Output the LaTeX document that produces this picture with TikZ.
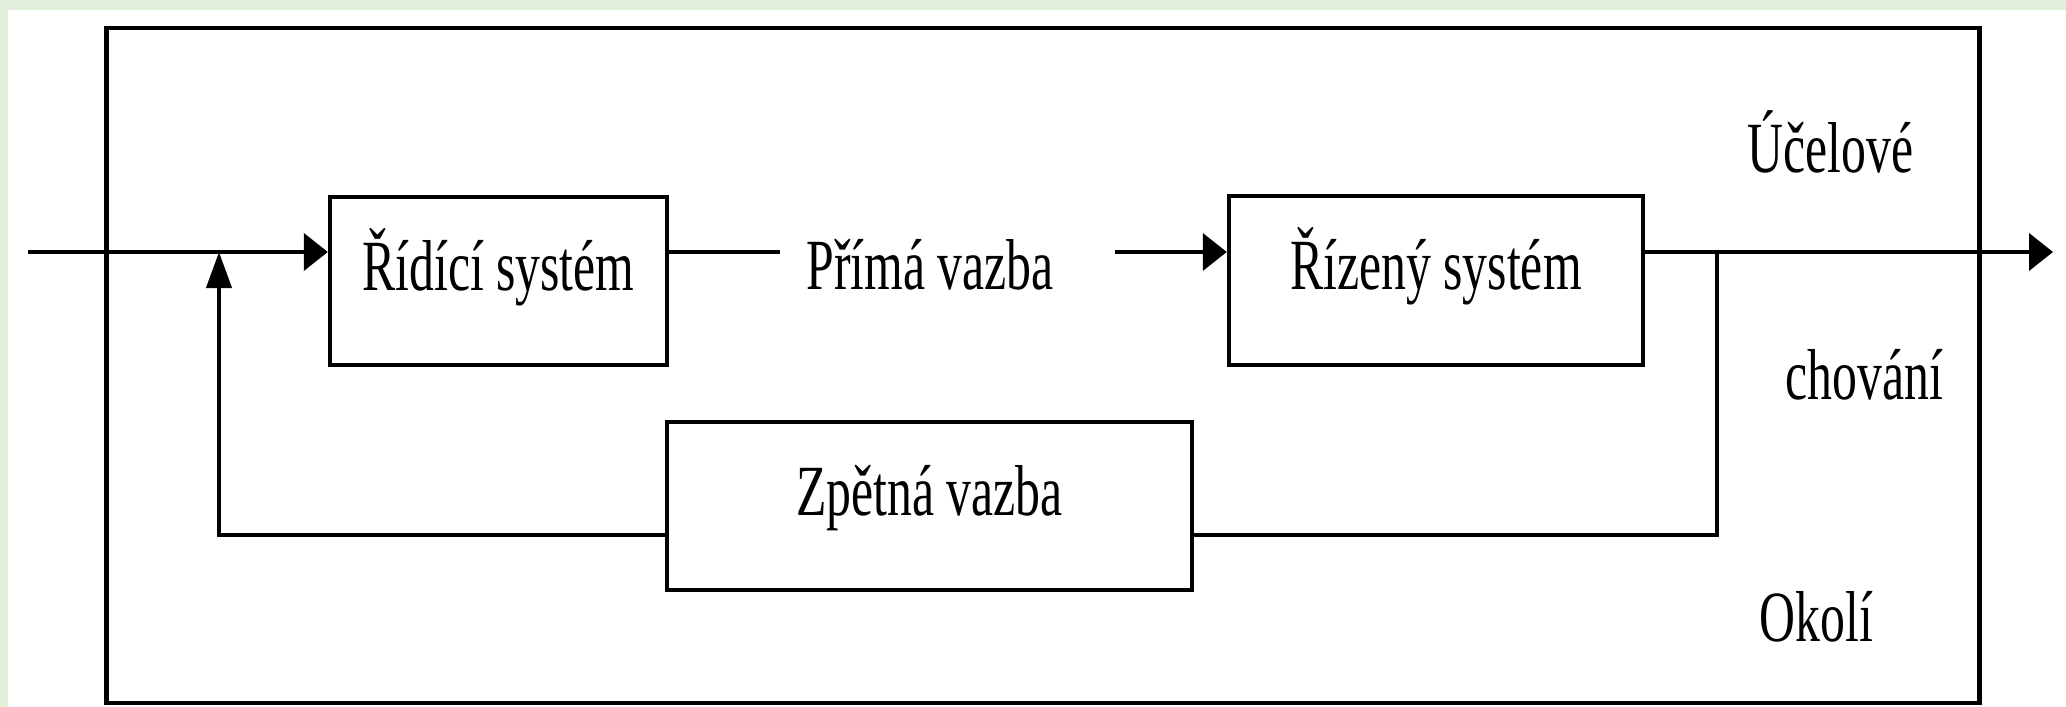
\documentclass[tikz,border=0pt]{standalone}
\usepackage{fontspec}
\setmainfont{Liberation Serif}[FakeStretch=0.69]
\usetikzlibrary{arrows.meta}
\definecolor{framegreen}{HTML}{E2EFDA}
\tikzset{
  wire/.style={line width=0.042cm, line cap=rect},
  harrow/.style={wire, -{Triangle[length=0.24cm,width=0.37cm]}},
  varrow/.style={wire, -{Triangle[length=0.36cm,width=0.25cm]}},
  block/.style={draw, line width=0.042cm, inner sep=0pt,
    text height=0.40cm, text depth=0.21cm, minimum height=1.685cm},
  lbl/.style={inner sep=0pt, anchor=base west},
  every node/.style={font=\fontsize{20.5pt}{24pt}\selectfont}
}
\begin{document}
\begin{tikzpicture}[x=0.01cm, y=-0.01cm]
  % page and green frame
  \useasboundingbox (0,0) rectangle (2066,707);
  \fill[framegreen] (0,0) rectangle (2066,707);
  \fill[white] (8,10) rectangle (2066,707);

  % environment boundary
  \node[draw, line width=0.045cm, minimum width=18.72cm, minimum height=6.75cm,
        inner sep=0pt] (env) at (1043,365.5) {};

  % blocks
  \node[block, minimum width=3.37cm] (rid) at (498.5,281) {Řídící systém};
  \node[block, minimum width=4.14cm] (riz) at (1436,280.5) {Řízený systém};
  \node[block, minimum width=5.25cm, minimum height=1.68cm] (zpet) at (929.5,506) {Zpětná vazba};

  % labels
  \node[lbl] (prima) at (806,290) {Přímá vazba};
  \node[lbl] (ucel) at (1747,173) {Účelové};
  \node[lbl] (chov) at (1785,400) {chování};
  \node[lbl] (okoli) at (1759,642) {Okolí};

  % junction and end points
  \coordinate (in) at (30,252);
  \coordinate (merge) at (219,252);
  \coordinate (pl) at (778,252);
  \coordinate (pr) at (1117,252);
  \coordinate (tap) at (1717,252);
  \coordinate (out) at (2053,252);
  \coordinate (fb) at (1717,535);

  % forward path
  \draw[harrow] (in) -- (in -| rid.west);
  \draw[wire] (rid.east |- pl) -- (pl);
  \draw[harrow] (pr) -- (pr -| riz.west);
  \draw[harrow] (riz.east |- out) -- (out);

  % feedback path, joined to the lower part of the feedback block
  \draw[wire] (tap) -- (fb) -- (zpet.east |- fb);
  \draw[varrow] (zpet.west |- fb) -| (merge);
\end{tikzpicture}
\end{document}
